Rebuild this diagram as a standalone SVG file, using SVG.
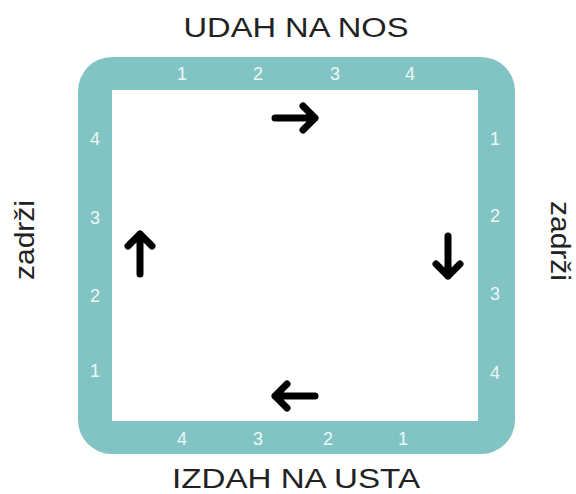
<svg xmlns="http://www.w3.org/2000/svg" width="576" height="494" viewBox="0 0 576 494">
  <defs>
    <style>
      .band { fill: #82c4c4; }
      .inner { fill: #ffffff; }
      .num { font-family: "Liberation Sans", Arial, sans-serif; font-size: 18px; fill: #eef8f8; text-anchor: middle; }
      .lbl { font-family: "Liberation Sans", Arial, sans-serif; font-size: 27px; fill: #222222; text-anchor: middle; }
      .arrow { fill: none; stroke: #000000; stroke-width: 7; stroke-linecap: round; stroke-linejoin: round; }
    </style>
    <g id="arrowR">
      <path class="arrow" d="M-20,0 L20,0 M8,-12 L20,0 L8,12"/>
    </g>
  </defs>
  <rect width="576" height="494" fill="#ffffff"/>

  <g id="frame">
    <rect class="band" x="78" y="57" width="437" height="397" rx="34" ry="34"/>
    <rect class="inner" x="112" y="90" width="366" height="331"/>
  </g>

  <g id="top-side">
    <text class="num" x="182" y="80">1</text>
    <text class="num" x="258" y="80">2</text>
    <text class="num" x="335" y="80">3</text>
    <text class="num" x="410" y="80">4</text>
  </g>
  <g id="right-side">
    <text class="num" x="495" y="145">1</text>
    <text class="num" x="495" y="222">2</text>
    <text class="num" x="495" y="300">3</text>
    <text class="num" x="495" y="379">4</text>
  </g>
  <g id="bottom-side">
    <text class="num" x="182" y="445">4</text>
    <text class="num" x="258" y="445">3</text>
    <text class="num" x="328" y="445">2</text>
    <text class="num" x="403" y="445">1</text>
  </g>
  <g id="left-side">
    <text class="num" x="95" y="145">4</text>
    <text class="num" x="95" y="224">3</text>
    <text class="num" x="95" y="302">2</text>
    <text class="num" x="95" y="377">1</text>
  </g>

  <g id="label-top">
    <text class="lbl" x="296" y="37" textLength="225" lengthAdjust="spacingAndGlyphs">UDAH NA NOS</text>
  </g>
  <g id="label-bottom">
    <text class="lbl" x="296" y="488" textLength="248" lengthAdjust="spacingAndGlyphs">IZDAH NA USTA</text>
  </g>
  <g id="label-left">
    <text class="lbl" transform="translate(34,240) rotate(-90)" x="0" y="0" textLength="80" lengthAdjust="spacingAndGlyphs">zadrži</text>
  </g>
  <g id="label-right">
    <text class="lbl" transform="translate(551,241) rotate(90)" x="0" y="0" textLength="80" lengthAdjust="spacingAndGlyphs">zadrži</text>
  </g>

  <g id="connectors">
    <use href="#arrowR" transform="translate(295,118)"/>
    <use href="#arrowR" transform="translate(448,256) rotate(90)"/>
    <use href="#arrowR" transform="translate(295,396) rotate(180)"/>
    <use href="#arrowR" transform="translate(140,254) rotate(-90)"/>
  </g>
</svg>
